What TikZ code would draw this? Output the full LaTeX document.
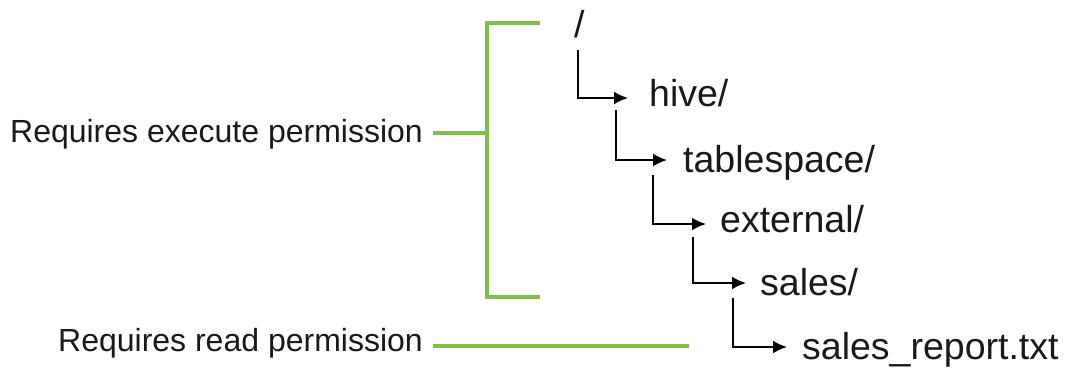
\documentclass[tikz,border=0pt]{standalone}
\usepackage{fontspec}
\setmainfont{Liberation Sans}
\usetikzlibrary{arrows.meta}
\definecolor{brgreen}{RGB}{127,190,72}
\definecolor{txt}{RGB}{25,25,25}
\tikzset{
  lbl/.style={inner sep=0pt, text=txt, font=\fontsize{32}{38}\selectfont, anchor=base east},
  path/.style={inner sep=0pt, text=txt, font=\fontsize{37.5}{44}\selectfont, anchor=base west},
  arr/.style={line width=2pt, -{Latex[length=14pt,width=13pt]}},
  grn/.style={line width=4pt, brgreen}
}
\begin{document}
\begin{tikzpicture}[x=1pt,y=-1pt]
\useasboundingbox (0,0) rectangle (1065,368);
% path nodes
\node[path] (root) at (574,37) {/};
\node[path] (hive) at (649,106) {hive/};
\node[path] (ts) at (683,172) {tablespace/};
\node[path] (ext) at (720,232) {external/};
\node[path] (sales) at (760,295) {sales/};
\node[path] (rep) at (802,359) {sales\_report.txt};
% labels
\node[lbl] (exec) at (423,142) {Requires execute permission};
\node[lbl] (read) at (423,351) {Requires read permission};
% tree connectors
\draw[arr] ([shift={(4,13)}]root.base west) |- ([shift={(-21,-8)}]hive.base west);
\draw[arr] ([shift={(-33,4)}]hive.base west) |- ([shift={(-16,-12)}]ts.base west);
\draw[arr] ([shift={(-30,3)}]ts.base west) |- ([shift={(-14,-8)}]ext.base west);
\draw[arr] ([shift={(-27,5)}]ext.base west) |- ([shift={(-14,-12)}]sales.base west);
\draw[arr] ([shift={(-27,3)}]sales.base west) |- ([shift={(-15,-12)}]rep.base west);
% green bracket
\coordinate (btop) at (540,23);
\coordinate (bbot) at (540,297);
\coordinate (bmid) at (487,133);
\coordinate (rend) at (689,346);
\draw[grn] (btop) -| (487,297) -- (bbot);
\draw[grn] ([shift={(10,-9)}]exec.base east) -- (bmid);
\draw[grn] ([shift={(10,-5)}]read.base east) -- (rend);
\end{tikzpicture}
\end{document}
